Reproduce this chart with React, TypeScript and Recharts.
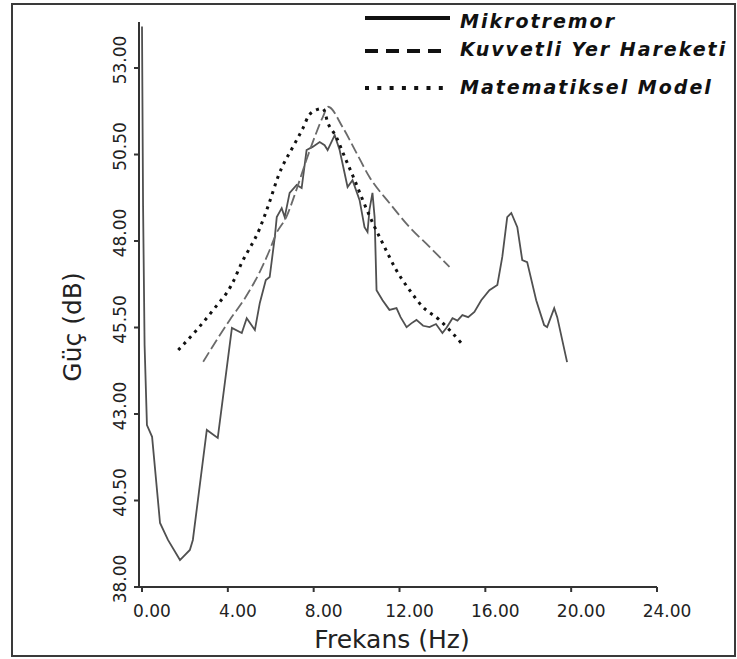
import { LineChart, Line, XAxis, YAxis, Legend, Label } from 'recharts';

// Mikrotremor (solid)
const MIKRO_F = [0, 0.05, 0.12, 0.23, 0.47, 0.84, 1.21, 1.77, 2.23, 2.37, 3.02, 3.53, 4.19, 4.65, 4.88, 5.26, 5.49, 5.77, 5.95, 6.19, 6.28, 6.51, 6.65, 6.88, 7.21, 7.44, 7.67, 7.95, 8.28, 8.51, 8.65, 8.98, 9.21, 9.58, 9.81, 10.14, 10.37, 10.51, 10.6, 10.74, 10.84, 10.93, 11.21, 11.53, 11.86, 12.05, 12.33, 12.55, 12.79, 13.1, 13.4, 13.7, 14.0, 14.2, 14.47, 14.7, 14.93, 15.2, 15.49, 15.81, 16.19, 16.56, 16.79, 17.02, 17.21, 17.49, 17.72, 17.95, 18.37, 18.74, 18.88, 19.21, 19.35, 19.81];
const MIKRO_V = [54.2, 49.0, 45.0, 42.68, 42.34, 39.85, 39.36, 38.78, 39.07, 39.36, 42.54, 42.31, 45.49, 45.34, 45.77, 45.43, 46.21, 46.87, 46.96, 48.12, 48.69, 48.95, 48.69, 49.39, 49.62, 49.53, 50.63, 50.72, 50.86, 50.77, 50.63, 51.06, 50.63, 49.56, 49.76, 49.18, 48.4, 48.26, 48.9, 49.39, 48.69, 46.58, 46.29, 46.01, 46.06, 45.8, 45.51, 45.62, 45.72, 45.55, 45.51, 45.6, 45.34, 45.5, 45.77, 45.7, 45.86, 45.8, 45.95, 46.29, 46.58, 46.73, 47.54, 48.69, 48.81, 48.4, 47.45, 47.39, 46.29, 45.57, 45.51, 46.06, 45.8, 44.5];

// Kuvvetli Yer Hareketi (dashed)
const KYH_F = [2.85, 4.09, 4.79, 5.49, 5.95, 6.26, 6.73, 7.19, 7.66, 8.05, 8.43, 8.67, 9.35, 10.0, 10.6, 11.53, 12.47, 13.4, 14.33];
const KYH_V = [44.51, 45.72, 46.34, 47.11, 47.74, 48.22, 48.7, 49.47, 50.34, 51.01, 51.59, 51.88, 51.29, 50.54, 49.85, 49.1, 48.4, 47.83, 47.25];

// Matematiksel Model (dotted)
const MODEL_F = [1.69, 2.62, 3.32, 4.17, 4.64, 5.49, 5.95, 6.34, 7.12, 7.5, 7.74, 8.12, 8.43, 8.67, 9.05, 9.44, 9.91, 10.29, 10.76, 11.22, 11.85, 12.47, 13.08, 13.86, 14.33, 15.02];
const MODEL_V = [44.85, 45.48, 46.01, 46.73, 47.36, 48.37, 49.14, 49.86, 50.82, 51.26, 51.59, 51.79, 51.83, 51.4, 51.01, 50.44, 49.76, 49.18, 48.51, 47.93, 47.16, 46.58, 46.1, 45.72, 45.43, 44.95];

const X_TICKS = [0, 4, 8, 12, 16, 20, 24];
const Y_TICKS = [38, 40.5, 43, 45.5, 48, 50.5, 53];

const SERIES_NAMES = ['Mikrotremor', 'Kuvvetli Yer Hareketi', 'Matematiksel Model'];

const toPoints = (fs: number[], vs: number[]) => fs.map((f, i) => ({ f, v: vs[i] }));

const mikro = toPoints(MIKRO_F, MIKRO_V);
const kyh = toPoints(KYH_F, KYH_V);
const model = toPoints(MODEL_F, MODEL_V);

const FONT = '"DejaVu Sans", Verdana, sans-serif';
const AXIS = '#333';

const YTick = ({ x, y, payload }: any) => {
  const bx = x - 6;
  const by = y - 8;
  return (
    <text
      x={bx}
      y={by}
      transform={`rotate(-90 ${bx} ${by})`}
      textAnchor="middle"
      fontSize={17}
      fontFamily={FONT}
      fill="#222"
    >
      {Number(payload.value).toFixed(2)}
    </text>
  );
};

const XTick = ({ x, y, payload }: any) => (
  <text x={x + 10} y={y} dy="0.71em" textAnchor="middle" fontSize={17} fontFamily={FONT} fill="#222">
    {Number(payload.value).toFixed(2)}
  </text>
);

const LEGEND_STYLES = [
  { dash: undefined, color: '#111' },
  { dash: '13 8', color: '#111' },
  { dash: '4 8.3', color: '#111' },
];
const LEGEND_ROWS = [
  { lineY: 18, textY: 28, x2: 450 },
  { lineY: 51, textY: 56, x2: 443 },
  { lineY: 88, textY: 94, x2: 443 },
];

const renderLegend = () => (
  <svg width={382} height={105}>
    {SERIES_NAMES.map((name, i) => (
      <g key={name}>
        <line
          x1={365 - 355}
          x2={LEGEND_ROWS[i].x2 - 355}
          y1={LEGEND_ROWS[i].lineY}
          y2={LEGEND_ROWS[i].lineY}
          stroke={LEGEND_STYLES[i].color}
          strokeWidth={4}
          strokeDasharray={LEGEND_STYLES[i].dash}
        />
        <text
          x={460 - 355}
          y={LEGEND_ROWS[i].textY}
          fontSize={19}
          fontStyle="italic"
          fontWeight="bold"
          letterSpacing={2}
          fontFamily={FONT}
          fill="#111"
        >
          {name}
        </text>
      </g>
    ))}
  </svg>
);

export default function App() {
  return (
    <div style={{ position: 'absolute', left: 0, top: 0, width: 737, height: 659, background: '#fff' }}>
      <div
        style={{
          position: 'absolute',
          left: 11,
          top: 3,
          width: 725,
          height: 654,
          boxSizing: 'border-box',
          border: '2px solid #3a3a3a',
        }}
      />
      <div style={{ position: 'absolute', left: 0, top: 0 }}>
        <LineChart width={737} height={659} margin={{ top: 22, right: 80, bottom: 0, left: 0 }}>
          <XAxis
            type="number"
            dataKey="f"
            domain={[-0.14, 24]}
            ticks={X_TICKS}
            tick={<XTick />}
            tickSize={5}
            tickMargin={13}
            height={72}
            stroke={AXIS}
            strokeWidth={2}
            allowDataOverflow
          >
            <Label
              content={() => (
                <text x={392} y={648} textAnchor="middle" fontSize={25} fontFamily={FONT} fill="#222">
                  Frekans (Hz)
                </text>
              )}
            />
          </XAxis>
          <YAxis
            type="number"
            domain={[38, 54.33]}
            ticks={Y_TICKS}
            tick={<YTick />}
            tickSize={5}
            width={139}
            stroke={AXIS}
            strokeWidth={2}
            allowDataOverflow
          >
            <Label
              content={() => (
                <text
                  x={81}
                  y={327}
                  transform="rotate(-90 81 327)"
                  textAnchor="middle"
                  fontSize={25}
                  fontFamily={FONT}
                  fill="#222"
                >
                  Güç (dB)
                </text>
              )}
            />
          </YAxis>
          <Legend
            layout="vertical"
            align="center"
            verticalAlign="middle"
            content={renderLegend}
            wrapperStyle={{ position: 'absolute', left: 355, top: 0, width: 382, height: 105 }}
          />
          <Line
            data={mikro}
            dataKey="v"
            name={SERIES_NAMES[0]}
            type="linear"
            stroke="#505050"
            strokeWidth={1.8}
            dot={false}
            isAnimationActive={false}
          />
          <Line
            data={kyh}
            dataKey="v"
            name={SERIES_NAMES[1]}
            type="monotone"
            stroke="#6a6a6a"
            strokeWidth={1.8}
            strokeDasharray="11 4"
            dot={false}
            isAnimationActive={false}
          />
          <Line
            data={model}
            dataKey="v"
            name={SERIES_NAMES[2]}
            type="monotone"
            stroke="#111"
            strokeWidth={3}
            strokeDasharray="3 5"
            dot={false}
            isAnimationActive={false}
          />
        </LineChart>
      </div>
    </div>
  );
}
